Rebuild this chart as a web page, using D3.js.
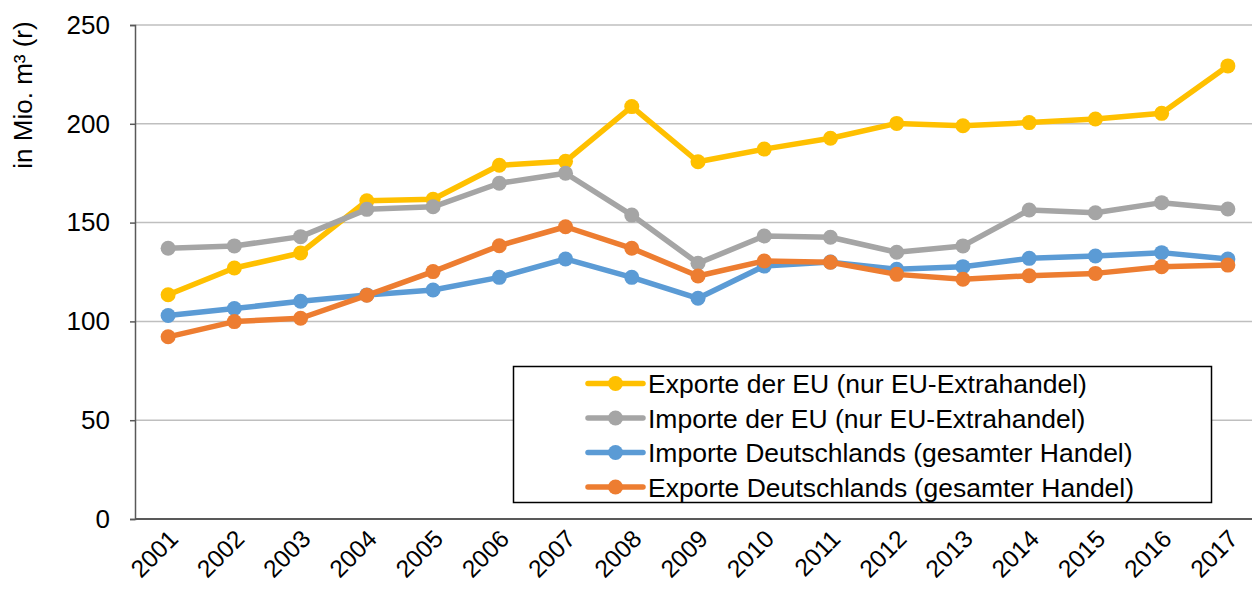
<!DOCTYPE html>
<html>
<head>
<meta charset="utf-8">
<script src="https://cdn.jsdelivr.net/npm/d3@7"></script>
<style>
  body { margin: 0; background: #fff; }
  svg { display: block; font-family: "Liberation Sans", Arial, sans-serif; }
</style>
</head>
<body>
<div class="canvas"></div>
<script>
// data
const years = ['2001','2002','2003','2004','2005','2006','2007','2008','2009','2010','2011','2012','2013','2014','2015','2016','2017'];
const exportEU = [113.5, 127, 134.6, 161, 161.8, 179, 181, 208.7, 180.8, 187.2, 192.7, 200.2, 199, 200.6, 202.4, 205.3, 229.3];
const importEU = [137, 138.2, 142.9, 156.7, 158, 169.9, 175, 153.8, 129.4, 143.2, 142.6, 135, 138.2, 156.4, 155, 160.1, 156.9];
const importDE = [103, 106.5, 110.2, 113.4, 115.9, 122.3, 131.6, 122.3, 111.7, 128, 130, 126.4, 127.7, 131.9, 133.1, 134.8, 131.6];
const exportDE = [92.2, 99.9, 101.6, 113.2, 125.2, 138.3, 147.9, 137, 123, 130.6, 129.9, 123.8, 121.3, 123.1, 124.3, 127.7, 128.5];
const yTicks = [0, 50, 100, 150, 200, 250];

const seriesNames = [
  'Exporte der EU (nur EU-Extrahandel)',
  'Importe der EU (nur EU-Extrahandel)',
  'Importe Deutschlands (gesamter Handel)',
  'Exporte Deutschlands (gesamter Handel)'
];
const seriesColors = ['#FFC000', '#A5A5A5', '#5B9BD5', '#ED7D31'];
const seriesValues = [exportEU, importEU, importDE, exportDE];

const series = seriesNames.map((name, i) => ({name, color: seriesColors[i], values: seriesValues[i]}));

// dimensions
const dims = {width: 1252, height: 592};
const plot = {left: 135, top: 25, bottom: 519, right: 1261};

const svg = d3.select('.canvas')
  .append('svg')
  .attr('width', dims.width)
  .attr('height', dims.height);

// scales
const x = d3.scalePoint()
  .domain(years)
  .range([plot.left, plot.right])
  .padding(0.5);

const y = d3.scaleLinear()
  .domain([0, 250])
  .range([plot.bottom, plot.top]);

// gridlines
svg.append('g')
  .selectAll('line')
  .data(yTicks.filter(d => d > 0))
  .enter()
  .append('line')
  .attr('x1', plot.left)
  .attr('x2', dims.width)
  .attr('y1', d => y(d))
  .attr('y2', d => y(d))
  .attr('stroke', '#bfbfbf')
  .attr('stroke-width', 1.5);

// y axis
const yAxis = d3.axisLeft(y)
  .tickValues(yTicks)
  .tickSize(5)
  .tickPadding(20);

const yG = svg.append('g')
  .attr('transform', `translate(${plot.left},0)`)
  .call(yAxis);

yG.select('.domain').attr('stroke', '#595959').attr('stroke-width', 1.5);
yG.selectAll('.tick line').attr('stroke', '#595959').attr('stroke-width', 1.5);
yG.selectAll('text')
  .attr('font-size', 26)
  .attr('font-family', '"Liberation Sans", Arial, sans-serif')
  .attr('fill', '#000');

// x axis line
svg.append('line')
  .attr('x1', plot.left)
  .attr('x2', dims.width)
  .attr('y1', plot.bottom)
  .attr('y2', plot.bottom)
  .attr('stroke', '#595959')
  .attr('stroke-width', 2);

// x labels rotated
svg.append('g')
  .selectAll('text')
  .data(years)
  .enter()
  .append('text')
  .attr('transform', d => `translate(${x(d) - 1},${plot.bottom + 9}) rotate(-45)`)
  .attr('text-anchor', 'end')
  .attr('dy', '0.72em')
  .attr('font-size', 24.5)
  .text(d => d);

// y axis title
svg.append('text')
  .attr('transform', `translate(32, 95) rotate(-90)`)
  .attr('text-anchor', 'middle')
  .attr('font-size', 26)
  .text('in Mio. m³ (r)');

// lines
const line = d3.line()
  .x((d, i) => x(years[i]))
  .y(d => y(d));

const graph = svg.append('g');

series.forEach(s => {
  const g = graph.append('g');
  g.append('path')
    .attr('d', line(s.values))
    .attr('fill', 'none')
    .attr('stroke', s.color)
    .attr('stroke-width', 5.5)
    .attr('stroke-linejoin', 'round')
    .attr('stroke-linecap', 'round');
  g.selectAll('circle')
    .data(s.values)
    .enter()
    .append('circle')
    .attr('cx', (d, i) => x(years[i]))
    .attr('cy', d => y(d))
    .attr('r', 7.5)
    .attr('fill', s.color);
});

// legend
const legend = svg.append('g');
legend.append('rect')
  .attr('x', 513.5)
  .attr('y', 366.5)
  .attr('width', 698)
  .attr('height', 136)
  .attr('fill', '#fff')
  .attr('stroke', '#000')
  .attr('stroke-width', 1.5);

const items = legend.selectAll('g.item')
  .data(series)
  .enter()
  .append('g')
  .attr('class', 'item')
  .attr('transform', (d, i) => `translate(0, ${383.5 + i * 34.5})`);

items.append('line')
  .attr('x1', 588)
  .attr('x2', 643)
  .attr('stroke', d => d.color)
  .attr('stroke-width', 5.5)
  .attr('stroke-linecap', 'round');

items.append('circle')
  .attr('cx', 615.5)
  .attr('r', 7.5)
  .attr('fill', d => d.color);

items.append('text')
  .attr('x', 648)
  .attr('dy', '0.36em')
  .attr('font-size', 26.5)
  .text(d => d.name);
</script>
</body>
</html>
